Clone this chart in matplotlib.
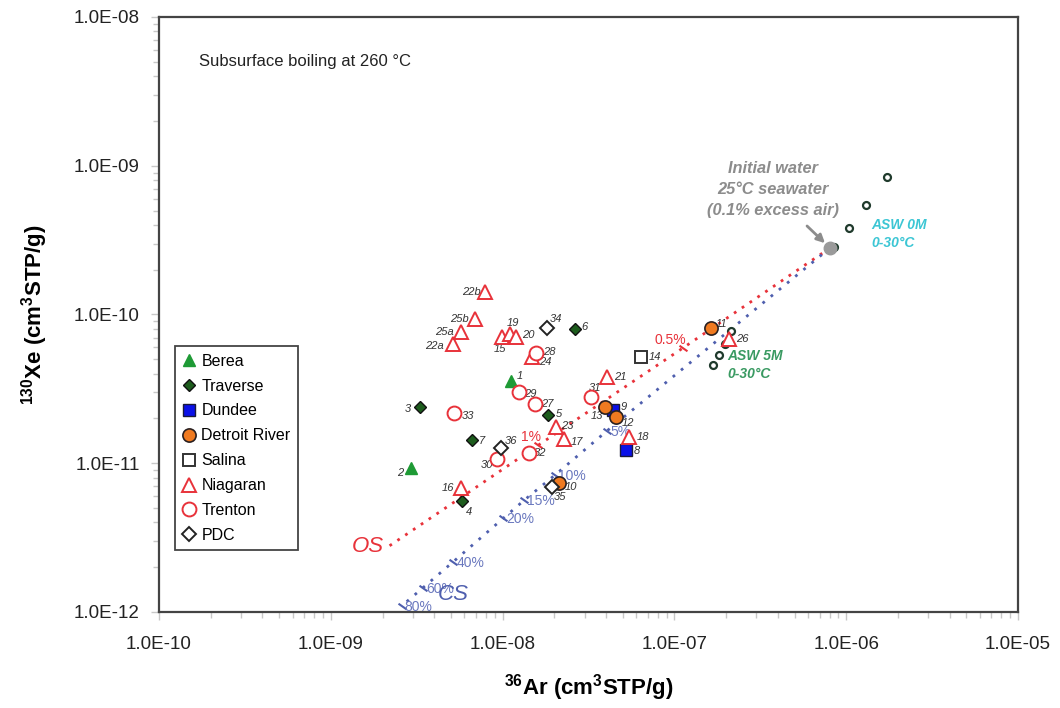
import matplotlib
matplotlib.use("Agg")
import matplotlib.pyplot as plt
from matplotlib.ticker import LogLocator, FuncFormatter, NullFormatter

plt.rcParams['font.family'] = ['Liberation Sans', 'DejaVu Sans']
plt.rcParams['mathtext.fontset'] = 'custom'
plt.rcParams['mathtext.rm'] = 'Liberation Sans'
plt.rcParams['mathtext.bf'] = 'Liberation Sans:bold'
plt.rcParams['mathtext.default'] = 'bf'

# ---- sample data (36Ar, 130Xe in cm3STP/g) ----
berea_id = ["1", "2"]
berea_ar = [1.12e-8, 2.93e-9]
berea_xe = [3.57e-11, 9.3e-12]

traverse_id = ["3", "4", "5", "6", "7"]
traverse_ar = [3.30e-9, 5.8e-9, 1.84e-8, 2.64e-8, 6.6e-9]
traverse_xe = [2.39e-11, 5.57e-12, 2.11e-11, 8.0e-11, 1.43e-11]

dundee_id = ["8", "9"]
dundee_ar = [5.23e-8, 4.39e-8]
dundee_xe = [1.23e-11, 2.28e-11]

detroit_id = ["10", "11", "12", "13"]
detroit_ar = [2.13e-8, 1.63e-7, 4.55e-8, 3.95e-8]
detroit_xe = [7.33e-12, 8.15e-11, 2.06e-11, 2.40e-11]

salina_id = ["14"]
salina_ar = [6.37e-8]
salina_xe = [5.2e-11]

niagaran_id = ["15", "16", "17", "18", "19", "20", "21", "22a", "22b",
               "23", "24", "25a", "25b", "26"]
niagaran_ar = [9.96e-9, 5.73e-9, 2.29e-8, 5.44e-8, 1.10e-8, 1.19e-8, 4.07e-8,
               5.12e-9, 7.9e-9, 2.05e-8, 1.48e-8, 5.7e-9, 6.9e-9, 2.09e-7]
niagaran_xe = [7.1e-11, 6.79e-12, 1.46e-11, 1.51e-11, 7.4e-11, 7.1e-11, 3.78e-11,
               6.33e-11, 1.41e-10, 1.75e-11, 5.15e-11, 7.59e-11, 9.33e-11, 6.85e-11]

trenton_id = ["27", "28", "29", "30", "31", "32", "33"]
trenton_ar = [1.54e-8, 1.56e-8, 1.25e-8, 9.24e-9, 3.26e-8, 1.42e-8, 5.19e-9]
trenton_xe = [2.49e-11, 5.54e-11, 3.0e-11, 1.06e-11, 2.77e-11, 1.17e-11, 2.17e-11]

pdc_id = ["34", "35", "36"]
pdc_ar = [1.82e-8, 1.95e-8, 9.83e-9]
pdc_xe = [8.07e-11, 6.96e-12, 1.26e-11]

# air saturated water, 0-30 C
asw0_ar = [1.73e-6, 1.30e-6, 1.04e-6, 8.53e-7]
asw0_xe = [8.44e-10, 5.45e-10, 3.80e-10, 2.83e-10]
asw5_ar = [2.14e-7, 1.96e-7, 1.82e-7, 1.67e-7]
asw5_xe = [7.75e-11, 6.33e-11, 5.34e-11, 4.58e-11]

init_ar = [8.05e-7]
init_xe = [2.8e-10]

# boiling models: open system (OS) and closed system (CS)
os_label = ["", "0.5%", "1%", ""]
os_ar = [8.05e-7, 1.12e-7, 1.61e-8, 2.16e-9]
os_xe = [2.8e-10, 5.95e-11, 1.32e-11, 2.75e-12]

cs_label = ["", "5%", "10%", "15%", "20%", "40%", "60%", "80%"]
cs_ar = [8.05e-7, 4.05e-8, 2.02e-8, 1.34e-8, 1.01e-8, 5.17e-9, 3.45e-9, 2.59e-9]
cs_xe = [2.8e-10, 1.65e-11, 8.34e-12, 5.66e-12, 4.27e-12, 2.18e-12, 1.46e-12, 1.10e-12]

# label offsets in pixels (right, up)
label_off = {
    "1": (9, 5), "2": (-11, -5), "3": (-12, -2), "4": (7, -11), "5": (11, 1),
    "6": (9, 2), "7": (10, -1), "8": (11, -1), "9": (11, 3), "10": (12, -4),
    "11": (11, 4), "12": (12, -6), "13": (-8, -9), "14": (14, 0),
    "15": (-2, -12), "16": (-13, 0), "17": (13, -3), "18": (14, 0),
    "19": (3, 11), "20": (13, 2), "21": (13, 0), "22a": (-18, -2),
    "22b": (-14, 0), "23": (11, 1), "24": (13, -5), "25a": (-16, 0),
    "25b": (-15, 0), "26": (13, 0), "27": (12, 0), "28": (14, 1),
    "29": (11, -2), "30": (-10, -6), "31": (4, 9), "32": (11, 0),
    "33": (14, -3), "34": (9, 9), "35": (8, -10), "36": (10, 7),
}

red = '#e8323a'
blue = '#4f5fae'

fig = plt.figure(figsize=(10.6, 7.08), dpi=100)
ax = fig.add_axes([0.15, 0.1356, 0.8104, 0.8404])
ax.set_xscale('log')
ax.set_yscale('log')
ax.set_xlim(1e-10, 1e-5)
ax.set_ylim(1e-12, 1e-8)

# model lines
ax.plot(os_ar, os_xe, color=red, lw=2, ls=(0, (1, 2.4)), zorder=1)
ax.plot(cs_ar, cs_xe, color=blue, lw=2, ls=(0, (1, 2.8)), zorder=1)
for lab, x, y in zip(os_label, os_ar, os_xe):
    if lab:
        ax.plot(x, y, marker=(2, 0, 55), ms=7, mec=red, mew=1.5, zorder=1)
        ax.annotate(lab, (x, y), xytext=(3, 8), textcoords='offset pixels',
                    ha='right', va='center', fontsize=10, color=red)
for lab, x, y in zip(cs_label, cs_ar, cs_xe):
    if lab:
        ax.plot(x, y, marker=(2, 0, 55), ms=7, mec=blue, mew=1.5, zorder=1)
        ax.annotate(lab, (x, y), xytext=(3, -1), textcoords='offset pixels',
                    ha='left', va='center', fontsize=10, color='#6a78be')
ax.annotate('OS', (os_ar[-1], os_xe[-1]), xytext=(-4, 0),
            textcoords='offset pixels', ha='right', va='center',
            fontsize=16, style='italic', color=red)
ax.annotate('CS', (cs_ar[-1], cs_xe[-1]), xytext=(51, 11),
            textcoords='offset pixels', ha='center', va='center',
            fontsize=16, style='italic', color=blue)

# ASW points and initial water
ax.plot(asw0_ar, asw0_xe, 'o', ms=5, mfc='white', mec='#1f3a2c', mew=1.6,
        ls='none', zorder=3)
ax.plot(asw5_ar, asw5_xe, 'o', ms=5, mfc='white', mec='#1f3a2c', mew=1.6,
        ls='none', zorder=3)
ax.plot(init_ar, init_xe, 'o', ms=9, mfc='#9a9a9a', mec='#9a9a9a', ls='none',
        zorder=4)

groups = [
    ("Berea", berea_id, berea_ar, berea_xe,
     dict(marker='^', ms=9, mfc='#1e9a35', mec='#1e9a35', mew=1)),
    ("Traverse", traverse_id, traverse_ar, traverse_xe,
     dict(marker='D', ms=6.5, mfc='#1d5c1d', mec='#111111', mew=1)),
    ("Dundee", dundee_id, dundee_ar, dundee_xe,
     dict(marker='s', ms=8.5, mfc='#0a10e8', mec='#1a1a3a', mew=1)),
    ("Detroit River", detroit_id, detroit_ar, detroit_xe,
     dict(marker='o', ms=9.5, mfc='#f07a20', mec='#2a2020', mew=1.2)),
    ("Salina", salina_id, salina_ar, salina_xe,
     dict(marker='s', ms=9, mfc='white', mec='#333333', mew=1.4)),
    ("Niagaran", niagaran_id, niagaran_ar, niagaran_xe,
     dict(marker='^', ms=10, mfc='white', mec=red, mew=1.4)),
    ("Trenton", trenton_id, trenton_ar, trenton_xe,
     dict(marker='o', ms=10, mfc='white', mec=red, mew=1.4)),
    ("PDC", pdc_id, pdc_ar, pdc_xe,
     dict(marker='D', ms=7.5, mfc='white', mec='#222222', mew=1.4)),
]

handles = []
for name, ids, xs, ys, st in groups:
    h, = ax.plot(xs, ys, ls='none', label=name, zorder=5, **st)
    handles.append(h)
    for i, x, y in zip(ids, xs, ys):
        ax.annotate(i, (x, y), xytext=label_off[i], textcoords='offset pixels',
                    ha='center', va='center', fontsize=8, style='italic',
                    color='#333333')

# text annotations
ax.annotate('Initial water\n25°C seawater\n(0.1% excess air)',
            (init_ar[0], init_xe[0]), xytext=(-57, 58),
            textcoords='offset pixels', ha='center', va='center',
            fontsize=11.8, fontweight='bold', style='italic', color='#8c8c8c',
            linespacing=1.5)
ax.annotate('', (init_ar[0], init_xe[0]), xytext=(-23, 22),
            textcoords='offset pixels',
            arrowprops=dict(arrowstyle='-|>', color='#8c8c8c', lw=2,
                            mutation_scale=12, shrinkA=0, shrinkB=5))
ax.annotate('ASW 0M\n0-30°C', (asw0_ar[2], asw0_xe[2]), xytext=(22, -6),
            textcoords='offset pixels', ha='left', va='center', fontsize=10,
            fontweight='bold', style='italic', color='#3cc6d4', linespacing=1.35)
ax.annotate('ASW 5M\n0-30°C', (asw5_ar[3], asw5_xe[3]), xytext=(15, 0),
            textcoords='offset pixels', ha='left', va='center', fontsize=10,
            fontweight='bold', style='italic', color='#3a9a62', linespacing=1.35)
ax.text(0.046, 0.925, 'Subsurface boiling at 260 °C', transform=ax.transAxes,
        fontsize=12, va='center', ha='left', color='#222222')

# axes styling
fmt = FuncFormatter(lambda v, p: f"{v:.1E}")
for axis in (ax.xaxis, ax.yaxis):
    axis.set_major_locator(LogLocator(base=10, numticks=10))
    axis.set_minor_locator(LogLocator(base=10, subs=range(2, 10), numticks=20))
    axis.set_major_formatter(fmt)
    axis.set_minor_formatter(NullFormatter())
ax.tick_params(which='both', direction='out', color='#c8c8c8', width=1)
ax.tick_params(which='major', length=6, labelsize=13.5, colors='#c8c8c8',
               labelcolor='#222222')
ax.tick_params(which='minor', length=4)
ax.tick_params(axis='x', which='major', pad=11)
ax.tick_params(axis='y', which='major', pad=8)
for s in ax.spines.values():
    s.set_color('#444444')
    s.set_linewidth(1.6)

ax.set_xlabel(r'$^{36}$Ar (cm$^{3}$STP/g)', fontsize=16,
              fontweight='bold', labelpad=14)
ax.set_ylabel(r'$^{130}$Xe (cm$^{3}$STP/g)', fontsize=16,
              fontweight='bold', labelpad=17)

leg = ax.legend(handles=handles, loc='lower left',
                bbox_to_anchor=(0.0186, 0.104), borderaxespad=0, fontsize=11.5,
                frameon=True, fancybox=False, framealpha=1, labelspacing=0.62,
                handlelength=0.9, handletextpad=0.3, borderpad=0.45,
                markerscale=1.0)
leg.get_frame().set_edgecolor('#444444')
leg.get_frame().set_linewidth(1.3)

fig.savefig('out.png', dpi=100)
